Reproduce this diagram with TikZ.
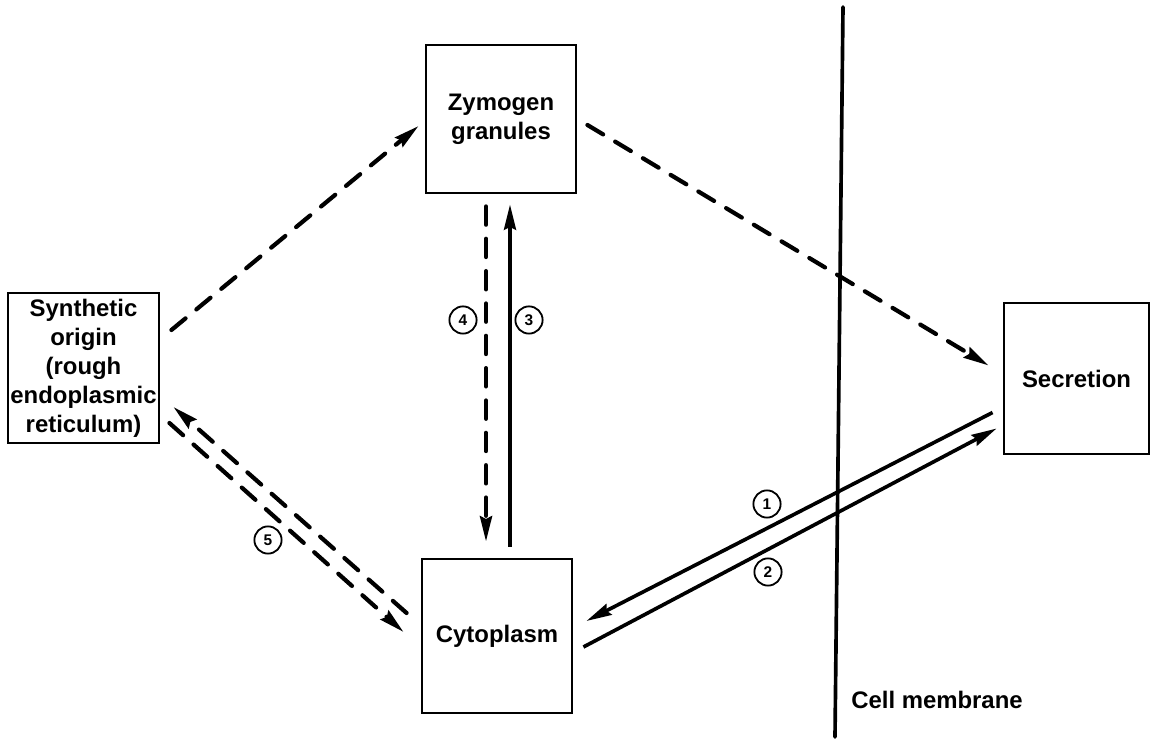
\documentclass[tikz,border=0pt]{standalone}
\usepackage{fontspec}
\setmainfont{Liberation Sans}
\usetikzlibrary{arrows.meta,calc}

\tikzset{
  box/.style={rectangle, draw=black, line width=2pt, align=center, inner sep=0pt,
    font=\fontsize{17}{20.6}\selectfont\bfseries},
  flow/.style={line width=2.6pt, -{Stealth[length=18pt,width=8.5pt,inset=2pt]}},
  dflow/.style={flow, line width=3pt, line cap=round, dash pattern=on 13pt off 10pt},
  circnum/.style={circle, draw=black, line width=1.3pt, minimum size=0.68cm, inner sep=0pt,
    font=\fontsize{11}{11}\selectfont\bfseries},
  membrane/.style={line width=2.6pt, line cap=round},
}

\begin{document}
\begin{tikzpicture}[x=0.025cm, y=-0.025cm]
\useasboundingbox (0,0) rectangle (1152,740);

\node[box, minimum width=3.75cm, minimum height=3.7cm](zym) at (501,119){Zymogen\\granules};
\node[box, minimum width=3.775cm, minimum height=3.75cm](syn) at (83.5,368){Synthetic\\origin\\(rough\\endoplasmic\\reticulum)};
\node[box, minimum width=3.625cm, minimum height=3.775cm](sec) at (1076.5,378.5){Secretion};
\node[box, minimum width=3.75cm, minimum height=3.85cm](cyt) at (497,636){Cytoplasm};

\coordinate(memTop) at (843,7);
\coordinate(memBot) at (835,737);
\draw[membrane] (memTop) -- (memBot);
\node[font=\fontsize{17}{20}\selectfont\bfseries](memLabel) at (937,700){Cell membrane};

\draw[dflow] ($(syn.east)+(11,-38)$) -- ($(zym.west)+(-6,7)$);
\draw[dflow] ($(zym.east)+(10,6)$) -- ($(sec.west)+(-14,-13)$);

\draw[dflow] ($(zym.south)+(-15,12)$) -- ($(cyt.north)+(-11,-16)$);
\draw[flow] ($(cyt.north)+(13,-11)$) -- ($(zym.south)+(9,10)$);

\draw[dflow] ($(cyt.west)+(-14,-23)$) -- ($(syn.east)+(13,39)$);
\draw[dflow] ($(syn.east)+(9,55)$) -- ($(cyt.west)+(-17,-4)$);

\draw[flow] ($(sec.west)+(-10,34)$) -- ($(cyt.east)+(13,-15)$);
\draw[flow] ($(cyt.east)+(10,11)$) -- ($(sec.west)+(-6,50)$);

\node[circnum](numFour) at (463,320){4};
\node[circnum](numThree) at (529,320){3};
\node[circnum](numFive) at (268,540){5};
\node[circnum](numOne) at (767,504){1};
\node[circnum](numTwo) at (768,572){2};
\end{tikzpicture}
\end{document}
